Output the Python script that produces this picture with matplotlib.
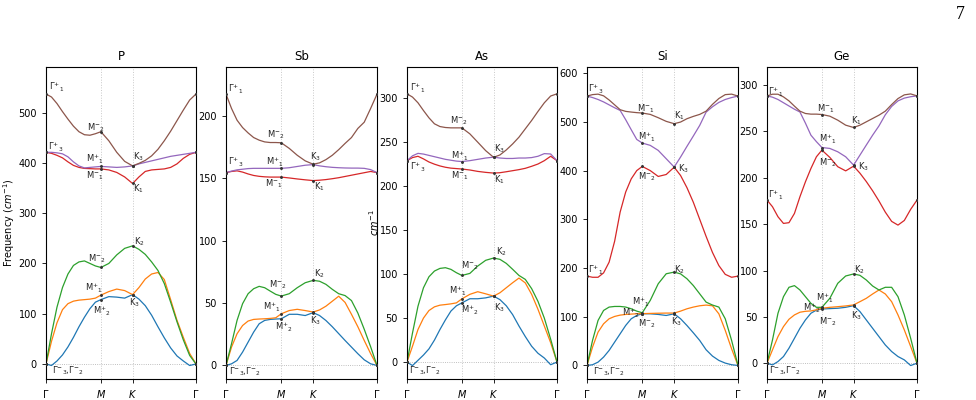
import numpy as np
import matplotlib.pyplot as plt

plt.rcParams['font.size'] = 7
plt.rcParams['axes.linewidth'] = 0.8

# sampling along G-M-K-G (|GM| = 1): 11 pts on GM, 4 on MK, 10 on KG
seg_len = [1.0, 1 / np.sqrt(3), 2 / np.sqrt(3)]
q = np.concatenate([np.linspace(0, 1, 11),
                    1 + seg_len[1] * np.arange(1, 5) / 4,
                    1 + seg_len[1] + seg_len[2] * np.arange(1, 11) / 10])
sym_q = [0, 1, 1 + seg_len[1], sum(seg_len)]
sym_idx = [0, 10, 14, 24]
tick_labels = [r'$\Gamma$', r'$M$', r'$K$', r'$\Gamma$']

names = ['P', 'Sb', 'As', 'Si', 'Ge']

# frequencies (cm^-1), six bands per material, lowest first
P_freq = [
    [0, -3, 6, 18, 34, 53, 74, 93, 110, 123, 128, 134, 133, 131, 138, 129, 116, 97, 74, 52, 32, 16, 6, -3, 0],
    [0, 45, 82, 108, 120, 125, 127, 128, 129, 131, 137, 144, 149, 146, 138, 152, 169, 179, 182, 168, 128, 87, 53, 21, 0],
    [0, 60, 113, 152, 179, 196, 203, 205, 200, 195, 192, 200, 217, 230, 235, 228, 218, 203, 186, 160, 123, 84, 48, 17, 0],
    [421, 419, 415, 410, 402, 395, 391, 389, 388.5, 388, 388, 386, 381, 372, 359, 372, 383, 386, 387, 388, 391, 398, 409, 417, 421],
    [421, 421, 420, 418, 412, 402, 394, 390, 391, 392, 393, 392, 391, 392, 394, 398, 401, 404, 407, 410, 413, 415, 417, 419, 421],
    [537, 531, 518, 502, 487, 473, 462, 456, 455, 458, 462, 444, 421, 403, 394, 399, 405, 414, 427, 444, 463, 484, 505, 525, 537],
]
Sb_freq = [
    [0, 1.3, 4, 10.7, 18.7, 26.7, 33.4, 36.1, 36.9, 37.2, 37.4, 41, 41, 40, 42.3, 40, 36, 31, 25.5, 20, 14.7, 9.4, 4.5, 1.3, 0],
    [0, 14.7, 25.4, 32, 35.6, 36.9, 37.2, 37.4, 37.7, 38.2, 41.4, 44, 45, 44, 42.8, 44.5, 47.5, 51.5, 55.5, 50.5, 41, 31, 20, 9.5, 0],
    [0, 17.4, 36.1, 49.5, 57.5, 61.5, 63.4, 62.3, 59.6, 57, 55.6, 57.5, 62.3, 66.3, 68.2, 67.5, 65, 61, 57.5, 56, 52, 42, 29, 15, 0],
    [154.6, 155.5, 156, 155, 153.5, 152.3, 151.6, 151.2, 151, 151, 151, 150.3, 149.5, 148.8, 148.2, 148.5, 149, 149.7, 150.5, 151.5, 152.5, 153.5, 154.5, 155.5, 154.6],
    [154.6, 155.8, 156.8, 157.3, 157.8, 158, 158, 158, 158, 158, 158, 158.5, 159.5, 160.5, 161, 160, 159.3, 158.8, 158.5, 158.3, 158.2, 158.2, 158, 157, 154.6],
    [217.5, 206, 196.6, 190.7, 186.4, 182.7, 180.6, 179.2, 178.7, 178.7, 178.5, 174, 168.5, 164, 161.3, 162.4, 165, 168.5, 173, 178, 182.7, 190, 195, 206, 217.5],
]
As_freq = [
    [0, -4, 2, 8, 15, 25, 37, 48, 58, 64, 67.3, 72, 72, 73, 75, 71, 64, 54, 41, 29, 18, 10, 4.6, -3, 0],
    [0, 18, 37, 50, 58.6, 62.8, 64.7, 65.4, 66.2, 67.3, 71.9, 77, 80, 77.6, 75, 78.8, 84.5, 90.2, 95.5, 90, 77, 60, 41, 22, 0],
    [0, 33, 63.5, 84.5, 97, 103.5, 106.5, 107.3, 105.4, 101.6, 98.5, 100.8, 109.2, 115.7, 118.3, 116.8, 112.2, 105.5, 98.5, 94, 83.5, 69, 50, 26, 0],
    [229, 232.5, 234, 231, 227.5, 225, 223, 221.5, 220.5, 220, 219.5, 218.4, 216.8, 215.7, 214.9, 215.3, 216.4, 217.6, 218.8, 220.3, 222.6, 225.2, 229, 234, 229],
    [229, 234.5, 237.3, 236.5, 235, 233.5, 232, 230.5, 229.5, 228.5, 228, 229, 230.5, 232, 233, 232, 231.5, 231.5, 232, 232, 232.5, 234, 237, 236.6, 229],
    [305, 301.3, 294.8, 286, 277.7, 270.9, 267.8, 266.7, 266.3, 266.3, 266.3, 259.5, 250, 240.4, 232.8, 235.5, 241.2, 248, 255.7, 265.2, 274.7, 285, 294.8, 302.5, 305],
]
Si_freq = [
    [0, 1.4, 6.8, 17.1, 30.8, 47.9, 65, 82.1, 95.8, 102.6, 106.1, 106, 104.7, 102.6, 106, 95.8, 82, 67, 51.3, 32.2, 19.2, 10.3, 4.8, 1.4, 0],
    [0, 37.6, 68.4, 85.5, 95.8, 100.6, 103.3, 104.7, 105.4, 106.1, 106.3, 106.8, 107.2, 107.5, 107.5, 111.5, 116.3, 119.8, 122.5, 123.9, 122.5, 106, 72, 34, 0],
    [0, 51.3, 92.4, 112.9, 119.8, 121.1, 121.1, 119.8, 116.3, 111.5, 108.1, 133.5, 167.7, 188.2, 191.6, 188, 178, 164, 147, 130, 124, 119.8, 95.8, 51.3, 0],
    [183.4, 181, 181, 190, 212, 255, 315, 356, 383, 400, 408.6, 400, 388, 392, 407, 390, 365, 335, 300, 265, 232, 205, 187, 181, 183.4],
    [553, 550, 546, 541, 535, 529, 523.5, 504.5, 484, 464, 456.6, 451.8, 441.5, 424.4, 407.3, 427.8, 449.7, 471, 492.8, 520, 531, 540, 546, 550, 553],
    [553, 556, 557, 553.5, 545, 535, 525, 521.6, 520.2, 519, 518.2, 515.4, 508.6, 501.1, 496.3, 499.7, 506.5, 511.3, 515.4, 522, 536, 548, 556, 557, 553],
]
Ge_freq = [
    [0, -1.8, 1.8, 7.2, 16.2, 26.9, 37.7, 46.7, 53.9, 57.3, 58.5, 58.9, 59.3, 60.3, 62.1, 55.7, 46.7, 37.7, 28.7, 19.7, 12.6, 7.2, 3.6, -2.5, 0],
    [0, 14.4, 28.7, 39.5, 47.4, 52.1, 55, 56, 56.4, 57.6, 59.3, 60.3, 61, 61.8, 62.9, 66.4, 70, 74.7, 79, 74.7, 66.4, 52.1, 35.9, 18, 0],
    [0, 25.1, 53.9, 71.8, 81.9, 83.7, 79, 71.8, 64.6, 60.3, 60.3, 70, 86.2, 94.1, 96.3, 94.8, 89.8, 83.3, 79, 81.9, 81.9, 71.8, 52.1, 26.9, 0],
    [176, 168.8, 158, 150.8, 151.6, 161.6, 179.6, 195.7, 210.1, 222.7, 229.9, 222, 212, 207.5, 212.6, 205, 196, 186, 175, 163, 153, 149, 154, 166, 176],
    [288.4, 287, 284.5, 281, 277.5, 274, 271, 259, 246, 239, 232.7, 231.7, 228.1, 222.7, 213.7, 224.5, 235.3, 246, 256, 268, 277, 283, 286, 287.5, 288.4],
    [288.4, 290.2, 290.2, 287.3, 283, 277.3, 271.9, 269.4, 268.7, 268.7, 268.3, 266.5, 262.2, 256.8, 254.3, 256.8, 260.4, 264, 267.6, 271.9, 279, 285.5, 289.5, 290.5, 288.4],
]
all_freq = [P_freq, Sb_freq, As_freq, Si_freq, Ge_freq]
band_colors = ['C0', 'C1', 'C2', 'C3', 'C4', 'C5']

# irrep labels: (q, frequency, text)
G1, G3 = r'$\Gamma^{+}{}_{1}$', r'$\Gamma^{+}{}_{3}$'
G32 = r'$\Gamma^{-}{}_{3}$,$\Gamma^{-}{}_{2}$'
Mp1, Mp2 = r'M$^{+}{}_{1}$', r'M$^{+}{}_{2}$'
Mm1, Mm2 = r'M$^{-}{}_{1}$', r'M$^{-}{}_{2}$'
K1, K2, K3 = r'K$_{1}$', r'K$_{2}$', r'K$_{3}$'
P_labels = [(0.05, 551, G1), (0.75, 469, Mm2), (0.04, 431, G3), (0.73, 406, Mp1),
            (1.585, 412, K3), (0.73, 374, Mm1), (1.585, 349, K1), (1.6, 244, K2),
            (0.77, 210, Mm2), (0.71, 151, Mp1), (0.86, 104, Mp2), (1.51, 121, K3),
            (0.11, -13, G32)]
Sb_labels = [(0.03, 221, G1), (0.75, 185, Mm2), (1.52, 167, K3), (0.03, 162.5, G3),
             (0.72, 163, Mp1), (0.7, 146, Mm1), (1.6, 143, K1), (1.6, 73.4, K2),
             (0.78, 65, Mm2), (0.67, 46.5, Mp1), (0.89, 30.5, Mp2), (1.52, 35.7, K3),
             (0.05, -5.4, G32)]
As_labels = [(0.055, 311, G1), (0.78, 274, Mm2), (1.585, 243, K3), (0.81, 234, Mp1),
             (0.055, 221, G3), (0.81, 211.5, Mm1), (1.585, 207.5, K1), (1.615, 125, K2),
             (0.99, 110, Mm2), (0.77, 80, Mp1), (0.98, 58.6, Mp2), (1.585, 62, K3),
             (0.04, -10.3, G32)]
Si_labels = [(0.02, 567, G3), (0.9, 528, Mm1), (1.57, 513, K1), (0.92, 467.5, Mp1),
             (1.65, 404.5, K3), (0.92, 388, Mm2), (0.02, 196, G1), (1.57, 196, K2),
             (0.81, 130, Mp1), (0.63, 107, Mp2), (0.92, 85, Mm2), (1.52, 89, K3),
             (0.1, -13, G32)]
Ge_labels = [(0.01, 292, G1), (0.91, 275, Mm1), (1.53, 261.6, K1), (0.94, 241, Mp1),
             (0.94, 216, Mm2), (1.66, 212.4, K3), (0.02, 181, G1), (1.59, 101, K2),
             (0.89, 70, Mp1), (0.65, 59.3, Mp2), (0.94, 44.8, Mm2), (1.53, 51.7, K3),
             (0.04, -8.3, G32)]
all_labels = [P_labels, Sb_labels, As_labels, Si_labels, Ge_labels]

fig = plt.figure(figsize=(9.76, 4.0), dpi=100)
lefts = [46, 226, 407, 587, 767]
widths = [150, 151, 150, 151, 150]

for i, name in enumerate(names):
    ax = fig.add_axes([lefts[i] / 976, 21 / 400, widths[i] / 976, 312 / 400])
    freq = np.array(all_freq[i], dtype=float)
    for xv in sym_q[1:3]:
        ax.axvline(xv, color='#c8c8c8', ls=':', lw=0.7, zorder=0)
    ax.axhline(0, color='#aaaaaa', ls=':', lw=0.6, zorder=0)
    for b in range(6):
        ax.plot(q, freq[b], color=band_colors[b], lw=0.9)
        ax.plot(np.array(sym_q), freq[b][sym_idx], 'o', color='#333333', ms=1.1, zorder=3)
    for (xq, yv, txt) in all_labels[i]:
        ax.text(xq, yv, txt, fontsize=6, color='#222222', ha='left', va='center')
    ax.set_xlim(0, sym_q[-1])
    ax.set_ylim(freq.min() - 0.05 * freq.max(), 1.1 * freq.max())
    ax.set_xticks(sym_q)
    ax.set_xticklabels(tick_labels)
    ax.tick_params(labelsize=7, length=3, width=0.6)
    ax.set_title(name, fontsize=8.5, pad=5)
    if name == 'P':
        ax.set_ylabel(r'Frequency ($cm^{-1}$)', fontsize=7)
        ax.yaxis.set_label_coords(-0.19, 0.5)
    if name == 'As':
        ax.set_ylabel(r'$cm^{-1}$', fontsize=7)
        ax.yaxis.set_label_coords(-0.175, 0.5)

fig.text(0.988, 0.964, '7', fontsize=13, family='Liberation Serif', ha='right', va='center')
fig.savefig('out.png', dpi=100)
